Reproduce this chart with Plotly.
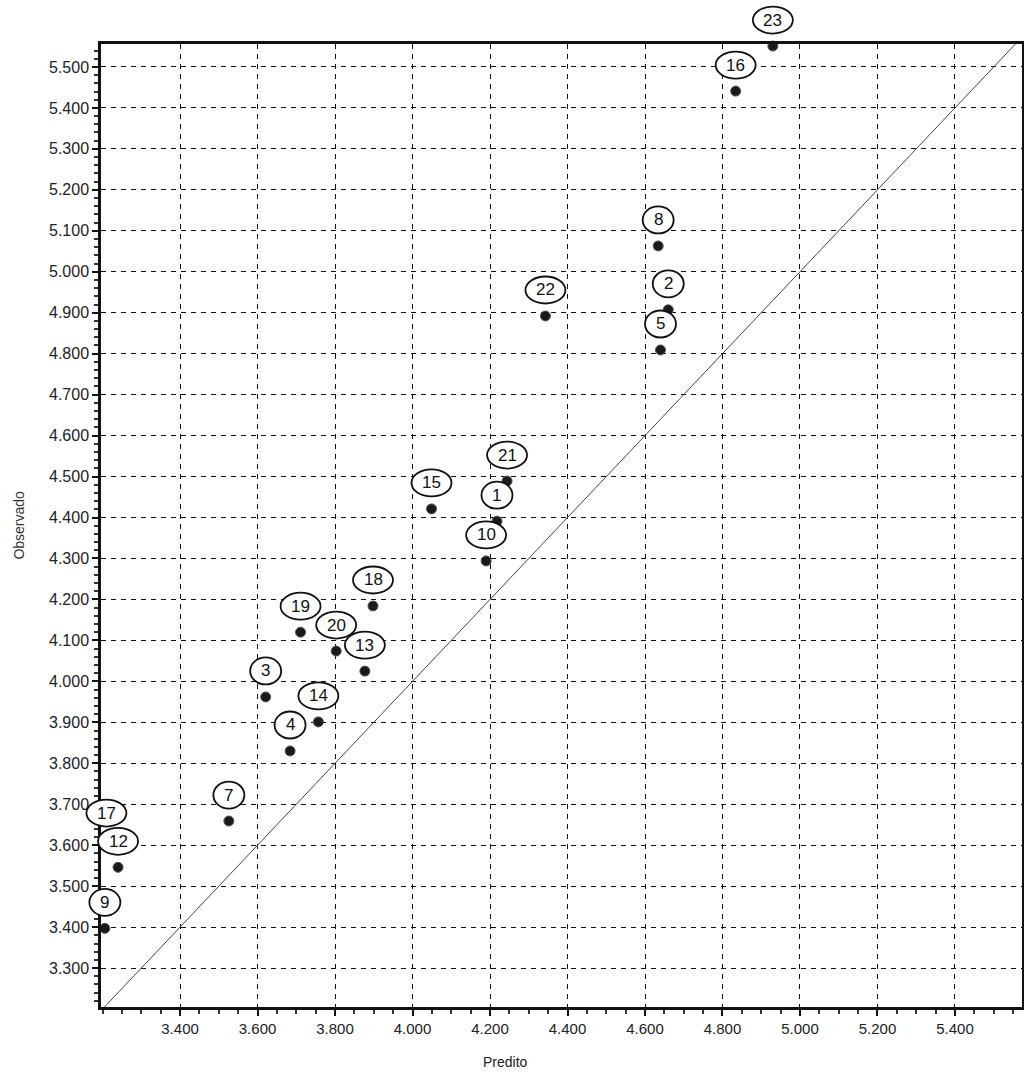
import plotly.graph_objects as go

ids = ["1", "2", "3", "4", "5", "7", "8", "9", "10", "12", "13", "14", "15",
       "16", "17", "18", "19", "20", "21", "22", "23"]
predito = [4.218, 4.660, 3.621, 3.684, 4.640, 3.526, 4.634, 3.206, 4.190, 3.240,
           3.877, 3.757, 4.049, 4.834, 3.210, 3.898, 3.711, 3.803, 4.244, 4.343, 4.930]
observado = [4.391, 4.907, 3.962, 3.830, 4.809, 3.659, 5.063, 3.397, 4.294, 3.546,
             4.025, 3.901, 4.421, 5.441, 3.615, 4.184, 4.120, 4.074, 4.489, 4.892, 5.551]

x_range = [3.196, 5.573]
y_range = [3.205, 5.556]
x_ticks = [3.4, 3.6, 3.8, 4.0, 4.2, 4.4, 4.6, 4.8, 5.0, 5.2, 5.4]
y_ticks = [3.3, 3.4, 3.5, 3.6, 3.7, 3.8, 3.9, 4.0, 4.1, 4.2, 4.3, 4.4, 4.5,
           4.6, 4.7, 4.8, 4.9, 5.0, 5.1, 5.2, 5.3, 5.4, 5.5]

FONT = "Liberation Sans, Arial"
fig = go.Figure()

# identity line
fig.add_trace(go.Scatter(x=[3.2, 5.6], y=[3.2, 5.6], mode="lines",
                         line=dict(color="#444444", width=1), hoverinfo="skip",
                         showlegend=False, cliponaxis=True))

fig.add_trace(go.Scatter(x=predito, y=observado, mode="markers",
                         marker=dict(size=10, color="#1a1a1a",
                                     line=dict(color="#555555", width=1)),
                         showlegend=False, cliponaxis=False))


def to_paper(v, rng):
    return (v - rng[0]) / (rng[1] - rng[0])


LABEL_DY = 26
for lab, xv, yv in zip(ids, predito, observado):
    w = 31 if len(lab) == 1 else 40
    h = 27
    fig.add_shape(type="circle", xref="paper", yref="paper",
                  xsizemode="pixel", ysizemode="pixel",
                  xanchor=to_paper(xv, x_range), yanchor=to_paper(yv, y_range),
                  x0=-w / 2, x1=w / 2, y0=LABEL_DY - h / 2, y1=LABEL_DY + h / 2,
                  line=dict(color="#111111", width=1.8), fillcolor="white",
                  layer="above")
    fig.add_annotation(x=xv, y=yv, text=lab, showarrow=False, yshift=LABEL_DY,
                       font=dict(family=FONT, size=17, color="#111111"))

fig.add_annotation(xref="paper", yref="paper", x=0.439, y=-0.047, yanchor="top",
                   xanchor="center", text="Predito", showarrow=False,
                   font=dict(family=FONT, size=14, color="#222222"))
fig.add_annotation(xref="paper", yref="paper", x=-0.09, y=0.5, xanchor="center",
                   text="Observado", textangle=-90, showarrow=False,
                   font=dict(family=FONT, size=14, color="#333333"))

axis_common = dict(
    showline=True, linecolor="#111111", linewidth=2.5, mirror=True,
    showgrid=True, gridcolor="#111111", gridwidth=1.3, griddash="5px,5px",
    ticks="outside", ticklen=6, tickwidth=1.5, tickcolor="#111111",
    tickformat=".3f", zeroline=False, automargin=False,
)

fig.update_xaxes(range=x_range, tickvals=x_ticks, **axis_common,
                 tickfont=dict(family=FONT, size=15, color="#222222"),
                 minor=dict(dtick=0.05, tick0=3.2, ticks="outside", ticklen=4,
                            tickcolor="#333333", showgrid=False))
fig.update_yaxes(range=y_range, tickvals=y_ticks, **axis_common,
                 tickfont=dict(family=FONT, size=16, color="#222222"),
                 minor=dict(dtick=0.02, tick0=3.2, ticks="outside", ticklen=4,
                            tickcolor="#333333", showgrid=False))

fig.update_layout(
    width=1024, height=1072,
    margin=dict(l=101, r=2, t=44, b=65, autoexpand=False),
    paper_bgcolor="white", plot_bgcolor="white",
    font=dict(family=FONT),
)

fig.write_html("out.html", config={"displayModeBar": False},
               post_script="document.body.style.margin='0';"
                           "document.body.style.padding='0';"
                           "document.body.style.overflow='hidden';")
